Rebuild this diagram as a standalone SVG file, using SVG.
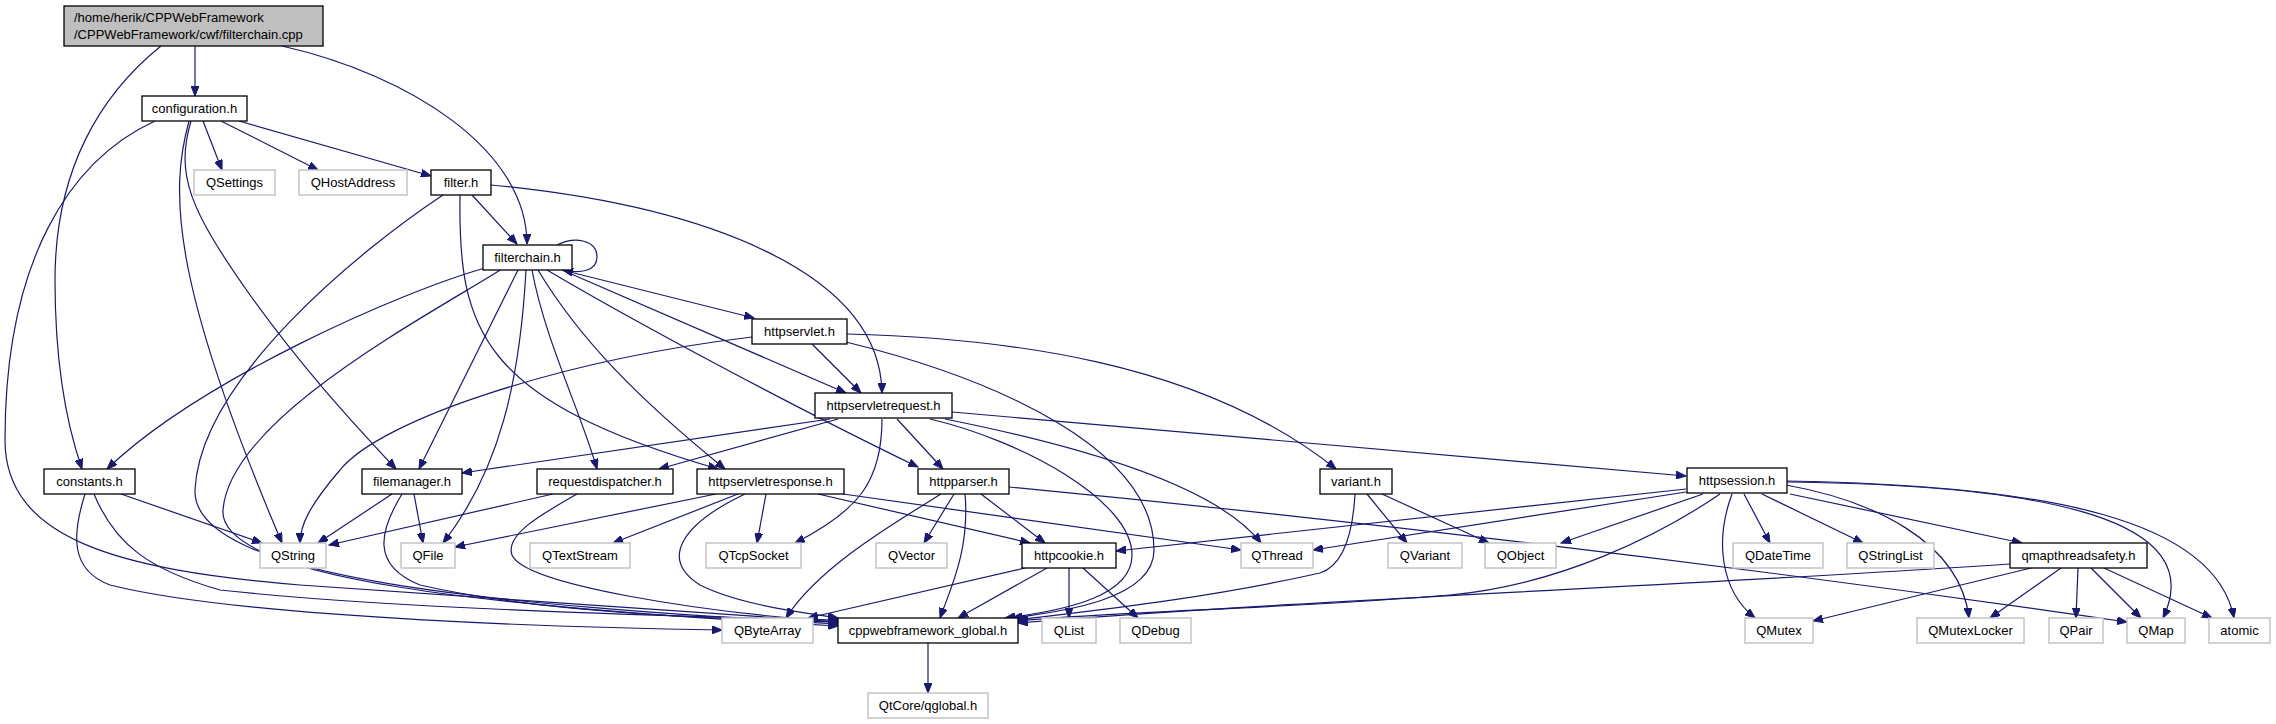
<svg xmlns="http://www.w3.org/2000/svg" width="2276" height="724" viewBox="0 0 2276 724">
<style>
.n rect{fill:#fff;stroke:#000;stroke-width:1.3}
.x rect{fill:#fff;stroke:#c4c4c4;stroke-width:1.5}
.r rect{fill:#bfbfbf;stroke:#000;stroke-width:1.3}
text{font-family:"Liberation Sans",Arial,sans-serif;font-size:13px;fill:#000;text-anchor:middle}
.e path{fill:none;stroke:#191970;stroke-width:1.2;marker-end:url(#a)}
</style>
<defs>
<marker id="a" markerWidth="11" markerHeight="8" refX="10" refY="4" orient="auto" markerUnits="userSpaceOnUse"><path d="M0,0 L10,4 L0,8 z" fill="#191970" stroke="#191970" stroke-width="1"/></marker>
</defs>
<rect width="2276" height="724" fill="#fff"/>
<g class="e" id="edges">
<path d="M195,46 L195,96"/>
<path d="M161,46 C100,95 55,170 55,280 C55,360 65,420 82,469"/>
<path d="M282,46 C410,75 527,150 527,244"/>
<path d="M203,121 L222,170"/>
<path d="M221,121 L318,170"/>
<path d="M239,121 L431,176"/>
<path d="M155,121 C70,160 5,260 5,440 C5,540 120,570 300,585 C500,600 700,612 838,622"/>
<path d="M189,121 C170,190 170,280 282,543"/>
<path d="M191,121 C175,175 190,210 250,295 C300,365 350,420 396,469"/>
<path d="M472,195 L517,244"/>
<path d="M443,195 C360,250 200,380 195,490 C192,580 500,605 838,624"/>
<path d="M491,185 C700,205 880,270 882,393"/>
<path d="M460,195 C458,330 480,400 718,469"/>
<path d="M557,245 C575,236 597,240 597,257 C597,271 580,274 563,270"/>
<path d="M485,268 C400,292 200,380 107,469"/>
<path d="M502,269 C420,320 230,420 223,510 C218,580 500,608 838,626"/>
<path d="M518,270 L419,469"/>
<path d="M526,270 C520,380 500,470 443,543"/>
<path d="M532,270 C545,340 580,410 597,469"/>
<path d="M538,270 C580,340 640,400 725,469"/>
<path d="M547,270 C640,325 800,410 918,467"/>
<path d="M562,270 L846,393"/>
<path d="M570,272 L754,318"/>
<path d="M812,344 L861,393"/>
<path d="M752,337 C560,360 380,420 340,470 C310,505 300,525 300,543"/>
<path d="M847,334 C1000,338 1200,360 1336,469"/>
<path d="M846,342 C1000,380 1154,450 1154,550 C1154,600 1060,612 1012,618"/>
<path d="M830,419 L462,473"/>
<path d="M838,419 L659,469"/>
<path d="M897,419 L943,469"/>
<path d="M882,419 C882,480 860,510 795,543"/>
<path d="M930,419 C1020,440 1132,500 1132,555 C1132,595 1070,610 1005,618"/>
<path d="M945,419 C1100,450 1220,490 1261,543"/>
<path d="M952,412 L1686,476"/>
<path d="M121,494 L262,543"/>
<path d="M85,494 C72,535 70,570 110,585 C250,620 600,628 722,630"/>
<path d="M94,494 C115,545 150,570 220,590 C400,610 700,617 838,620"/>
<path d="M392,494 L318,543"/>
<path d="M414,494 L423,543"/>
<path d="M402,494 C380,530 370,565 420,585 C550,615 750,620 838,622"/>
<path d="M553,494 L329,545"/>
<path d="M577,494 C540,515 505,535 512,555 C525,585 700,612 838,622"/>
<path d="M716,494 L455,547"/>
<path d="M738,494 L613,543"/>
<path d="M766,494 L757,543"/>
<path d="M745,494 C680,525 660,560 700,585 C740,605 800,612 838,618"/>
<path d="M818,494 L1030,543"/>
<path d="M843,494 L1241,550"/>
<path d="M941,494 C900,520 820,565 786,618"/>
<path d="M954,494 L924,543"/>
<path d="M965,494 C970,550 950,590 940,618"/>
<path d="M981,494 L1045,543"/>
<path d="M1009,487 C1300,515 1700,560 2127,622"/>
<path d="M1025,568 L808,618"/>
<path d="M1047,568 L958,618"/>
<path d="M1069,568 L1069,618"/>
<path d="M1083,568 L1138,618"/>
<path d="M928,643 L928,693"/>
<path d="M1367,494 L1407,543"/>
<path d="M1382,494 L1489,543"/>
<path d="M1355,494 C1353,530 1345,565 1320,573 C1200,600 1080,612 1016,620"/>
<path d="M1686,489 L1116,551"/>
<path d="M1686,492 L1313,550"/>
<path d="M1703,494 L1561,543"/>
<path d="M1720,494 C1660,535 1560,585 1450,595 C1300,608 1100,612 1018,621"/>
<path d="M1732,494 C1715,540 1720,590 1755,618"/>
<path d="M1744,494 L1770,543"/>
<path d="M1762,494 L1863,543"/>
<path d="M1790,494 L2022,543"/>
<path d="M1786,485 C1870,500 1960,540 1969,618"/>
<path d="M1786,482 C2050,485 2210,520 2163,618"/>
<path d="M1786,481 C2050,485 2215,520 2234,618"/>
<path d="M2010,564 C1700,585 1300,600 1018,623"/>
<path d="M2031,568 L1813,621"/>
<path d="M2061,568 L1990,618"/>
<path d="M2078,568 L2076,618"/>
<path d="M2091,568 L2141,618"/>
<path d="M2104,568 L2212,618"/>
</g>
<g id="root" class="r"><rect x="64" y="6" width="259" height="40"/><text x="74" y="22" style="text-anchor:start">/home/herik/CPPWebFramework</text><text x="74" y="39" style="text-anchor:start">/CPPWebFramework/cwf/filterchain.cpp</text></g>
<g id="configuration" class="n"><rect x="142" y="96" width="105" height="25"/><text x="194.5" y="113">configuration.h</text></g>
<g id="QSettings" class="x"><rect x="194" y="170" width="81" height="25"/><text x="234.5" y="187">QSettings</text></g>
<g id="QHostAddress" class="x"><rect x="299" y="170" width="108" height="25"/><text x="353" y="187">QHostAddress</text></g>
<g id="filter" class="n"><rect x="431" y="170" width="60" height="25"/><text x="461" y="187">filter.h</text></g>
<g id="filterchain" class="n"><rect x="483" y="245" width="89" height="25"/><text x="527.5" y="262">filterchain.h</text></g>
<g id="httpservlet" class="n"><rect x="752" y="319" width="95" height="25"/><text x="799.5" y="336">httpservlet.h</text></g>
<g id="httpservletrequest" class="n"><rect x="815" y="393" width="137" height="25"/><text x="883.5" y="410">httpservletrequest.h</text></g>
<g id="constants" class="n"><rect x="44" y="469" width="91" height="25"/><text x="89.5" y="486">constants.h</text></g>
<g id="filemanager" class="n"><rect x="362" y="469" width="100" height="25"/><text x="412" y="486">filemanager.h</text></g>
<g id="requestdispatcher" class="n"><rect x="537" y="469" width="136" height="25"/><text x="605" y="486">requestdispatcher.h</text></g>
<g id="httpservletresponse" class="n"><rect x="697" y="469" width="147" height="25"/><text x="770.5" y="486">httpservletresponse.h</text></g>
<g id="httpparser" class="n"><rect x="918" y="469" width="91" height="25"/><text x="963.5" y="486">httpparser.h</text></g>
<g id="variant" class="n"><rect x="1320" y="469" width="72" height="25"/><text x="1356" y="486">variant.h</text></g>
<g id="httpsession" class="n"><rect x="1687" y="468" width="100" height="25"/><text x="1737" y="485">httpsession.h</text></g>
<g id="QString" class="x"><rect x="260" y="543" width="66" height="25"/><text x="293" y="560">QString</text></g>
<g id="QFile" class="x"><rect x="401" y="543" width="54" height="25"/><text x="428" y="560">QFile</text></g>
<g id="QTextStream" class="x"><rect x="530" y="543" width="100" height="25"/><text x="580" y="560">QTextStream</text></g>
<g id="QTcpSocket" class="x"><rect x="706" y="543" width="95" height="25"/><text x="753.5" y="560">QTcpSocket</text></g>
<g id="QVector" class="x"><rect x="876" y="543" width="71" height="25"/><text x="911.5" y="560">QVector</text></g>
<g id="httpcookie" class="n"><rect x="1022" y="543" width="94" height="25"/><text x="1069" y="560">httpcookie.h</text></g>
<g id="QThread" class="x"><rect x="1241" y="543" width="72" height="25"/><text x="1277" y="560">QThread</text></g>
<g id="QVariant" class="x"><rect x="1388" y="543" width="74" height="25"/><text x="1425" y="560">QVariant</text></g>
<g id="QObject" class="x"><rect x="1485" y="543" width="71" height="25"/><text x="1520.5" y="560">QObject</text></g>
<g id="QDateTime" class="x"><rect x="1733" y="543" width="90" height="25"/><text x="1778" y="560">QDateTime</text></g>
<g id="QStringList" class="x"><rect x="1847" y="543" width="87" height="25"/><text x="1890.5" y="560">QStringList</text></g>
<g id="qmapthreadsafety" class="n"><rect x="2010" y="543" width="137" height="25"/><text x="2078.5" y="560">qmapthreadsafety.h</text></g>
<g id="QByteArray" class="x"><rect x="722" y="618" width="91" height="25"/><text x="767.5" y="635">QByteArray</text></g>
<g id="cppwebframework_global" class="n"><rect x="838" y="618" width="180" height="25"/><text x="928" y="635">cppwebframework_global.h</text></g>
<g id="QList" class="x"><rect x="1042" y="618" width="54" height="25"/><text x="1069" y="635">QList</text></g>
<g id="QDebug" class="x"><rect x="1120" y="618" width="71" height="25"/><text x="1155.5" y="635">QDebug</text></g>
<g id="QMutex" class="x"><rect x="1745" y="618" width="68" height="25"/><text x="1779" y="635">QMutex</text></g>
<g id="QMutexLocker" class="x"><rect x="1917" y="618" width="107" height="25"/><text x="1970.5" y="635">QMutexLocker</text></g>
<g id="QPair" class="x"><rect x="2049" y="618" width="54" height="25"/><text x="2076" y="635">QPair</text></g>
<g id="QMap" class="x"><rect x="2127" y="618" width="58" height="25"/><text x="2156" y="635">QMap</text></g>
<g id="atomic" class="x"><rect x="2209" y="618" width="61" height="25"/><text x="2239.5" y="635">atomic</text></g>
<g id="qglobal" class="x"><rect x="868" y="693" width="120" height="25"/><text x="928" y="710">QtCore/qglobal.h</text></g>
</svg>
